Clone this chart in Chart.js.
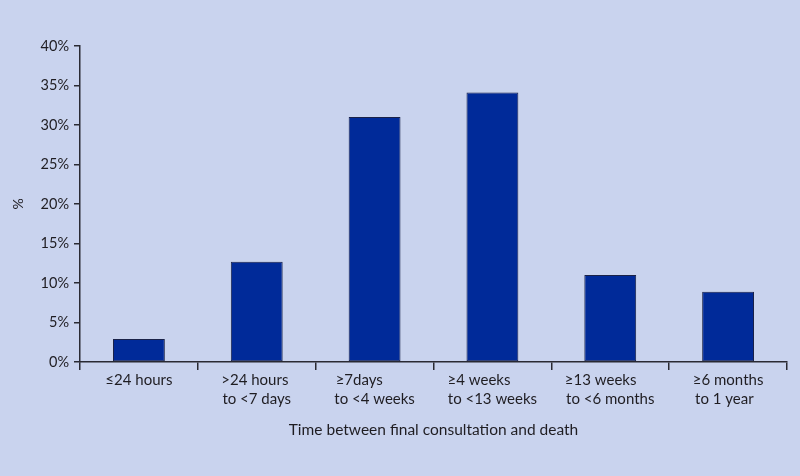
<!DOCTYPE html>
<html lang="en">
<head>
  <meta charset="UTF-8">
  <title>Time between final consultation and death</title>
  <script src="https://cdn.jsdelivr.net/npm/chart.js"></script>
  <style>
    html, body { margin: 0; padding: 0; background: #c9d3ee; }
    #wrap { width: 800px; height: 476px; }
  </style>
</head>
<body>
  <div id="wrap"><canvas id="myChart"></canvas></div>

  <script>
    // categories (two-line labels, shorter line padded so lines look left aligned)
    const NB = '\u00A0';
    const categories = [
      '≤24 hours',
      ['>24 hours' + NB, 'to <7 days'],
      ['≥7days' + NB.repeat(8), 'to <4 weeks'],
      ['≥4 weeks' + NB.repeat(7), 'to <13 weeks'],
      ['≥13 weeks' + NB.repeat(5), 'to <6 months'],
      ['≥6 months', 'to 1 year' + NB.repeat(2)]
    ];
    // percentage of deaths
    const percentValues = [2.9, 12.7, 31.0, 34.1, 11.0, 8.9];
    const yTicks = [0, 5, 10, 15, 20, 25, 30, 35, 40];

    const textColor = '#1f1d22';
    const axisColor = '#2a2a33';
    const fontFamily = 'Lato, "Open Sans", sans-serif';

    const ctx = document.getElementById('myChart').getContext('2d');
    window.myChart = new Chart(ctx, {
      type: 'bar',
      data: {
        labels: categories,
        datasets: [{
          label: '%',
          data: percentValues,
          backgroundColor: '#002a99',
          borderColor: '#1a2248',
          borderWidth: 1,
          borderSkipped: false,
          barPercentage: 0.44,
          categoryPercentage: 1
        }]
      },
      options: {
        responsive: true,
        maintainAspectRatio: false,
        animation: false,
        layout: { padding: { top: 46, right: 13, bottom: 37, left: 10 } },
        plugins: {
          legend: { display: false },
          tooltip: { enabled: false }
        },
        scales: {
          x: {
            afterFit: (scale) => { scale.height = 77; },
            grid: {
              offset: true,
              drawOnChartArea: false,
              drawTicks: true,
              tickLength: 8,
              color: axisColor,
              lineWidth: 1.5
            },
            border: { display: true, color: axisColor, width: 1.5 },
            ticks: {
              color: textColor,
              font: { family: fontFamily, size: 15, lineHeight: 1.3 },
              padding: 0,
              maxRotation: 0,
              autoSkip: false
            },
            title: {
              display: true,
              text: 'Time between final consultation and death',
              color: textColor,
              font: { family: fontFamily, size: 15.5 },
              padding: { top: 5, bottom: 0 }
            }
          },
          y: {
            min: 0,
            max: 40,
            afterFit: (scale) => { scale.width = 70; },
            afterBuildTicks: (scale) => { scale.ticks = yTicks.map(v => ({ value: v })); },
            grid: {
              drawOnChartArea: false,
              drawTicks: true,
              tickLength: 6,
              color: axisColor,
              lineWidth: 1.5
            },
            border: { display: true, color: axisColor, width: 1.5 },
            ticks: {
              color: textColor,
              font: { family: fontFamily, size: 14.5 },
              padding: 5,
              callback: (v) => v + '%'
            },
            title: {
              display: true,
              text: '%',
              color: textColor,
              font: { family: fontFamily, size: 14 },
              padding: { top: 0, bottom: 0 }
            }
          }
        }
      }
    });
  </script>
</body>
</html>
